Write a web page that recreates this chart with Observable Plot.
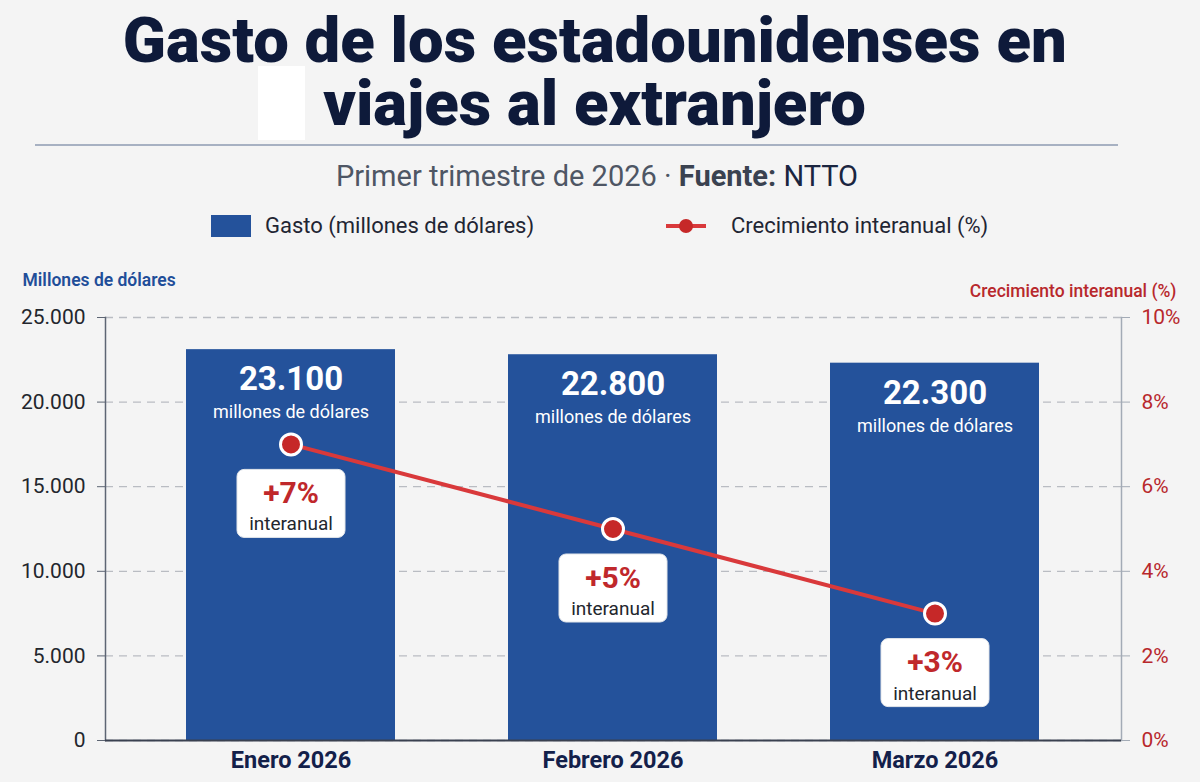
<!DOCTYPE html>
<html lang="es">
<head>
<meta charset="utf-8">
<script src="https://cdn.jsdelivr.net/npm/d3@7"></script>
<script src="https://cdn.jsdelivr.net/npm/@observablehq/plot@0.6"></script>
<style>
  html, body { margin: 0; padding: 0; background: #f4f4f4; }
  body { width: 1200px; height: 782px; position: relative; overflow: hidden; font-family: Roboto, "Noto Sans", sans-serif; }
  .tline { position: absolute; left: 0; width: 1190px; text-align: center; white-space: nowrap;
    font-family: Roboto, sans-serif; font-weight: 900; font-size: 63px; line-height: 63px; color: #0e1a3a; }
  .tline span { display: inline-block; transform-origin: 50% 50%; }
  #patch { position: absolute; left: 258px; top: 66px; width: 47px; height: 74px; background: #ffffff; }
  #rule { position: absolute; left: 35px; top: 144px; width: 1083px; height: 2px; background: #a7b1c2; }
  #subtitle { position: absolute; left: 0; top: 159px; width: 1194px; text-align: center; font-size: 29px; color: #4e5664; }
  #subtitle b { color: #3a4250; font-weight: 700; }
  #subtitle span.src { color: #1a2540; }
  .leg { position: absolute; top: 213px; font-size: 22px; color: #1f2533; display: flex; align-items: center; }
  #chart { position: absolute; left: 0; top: 255px; }
</style>
</head>
<body>
<div id="patch"></div>
<div class="tline" style="top:9px"><span id="t1">Gasto de los estadounidenses en</span></div>
<div class="tline" style="top:72px"><span id="t2">viajes al extranjero</span></div>
<div id="rule"></div>
<div id="subtitle">Primer trimestre de 2026 · <b>Fuente:</b> <span class="src">NTTO</span></div>
<div class="leg" style="left:211px"><span style="display:inline-block;width:40px;height:22px;background:#24529b;margin-right:14px"></span>Gasto (millones de dólares)</div>
<div class="leg" style="left:665px"><svg width="42" height="16" style="margin-right:24px"><line x1="1" y1="8" x2="41" y2="8" stroke="#d9393b" stroke-width="4"/><circle cx="21" cy="8" r="7" fill="#c62828"/></svg>Crecimiento interanual (%)</div>
<div id="chart"></div>
<script>
// Monthly spending (millions of dollars) and year-over-year growth (%)
const months = ["Enero 2026", "Febrero 2026", "Marzo 2026"];
const spending = [23100, 22800, 22300];
const growth = [7, 5, 3];
const leftTicks = [0, 5000, 10000, 15000, 20000, 25000];
const rightTicks = [0, 2, 4, 6, 8, 10];

// narrow the headline horizontally so the first line is 944px wide
{
  const t1 = document.getElementById("t1"), t2 = document.getElementById("t2");
  const k = 944 / t1.getBoundingClientRect().width;
  t1.style.transform = `scaleX(${k})`;
  t2.style.transform = `scaleX(${k})`;
}

// growth % shares the left scale: 10% maps to 25.000
const pctToY = 2500;

const data = months.map((m, i) => ({month: m, spend: spending[i], growth: growth[i]}));
const esFormat = d3.formatLocale({thousands: ".", decimal: ",", grouping: [3], currency: ["", "€"]}).format(",");

// rounded white label box, centered on the anchor point
const labelBox = {
  draw(ctx) {
    const w = 108, h = 68, r = 7, x0 = -w / 2, y0 = -h / 2;
    ctx.moveTo(x0 + r, y0);
    ctx.lineTo(x0 + w - r, y0);
    ctx.arcTo(x0 + w, y0, x0 + w, y0 + r, r);
    ctx.lineTo(x0 + w, y0 + h - r);
    ctx.arcTo(x0 + w, y0 + h, x0 + w - r, y0 + h, r);
    ctx.lineTo(x0 + r, y0 + h);
    ctx.arcTo(x0, y0 + h, x0, y0 + h - r, r);
    ctx.lineTo(x0, y0 + r);
    ctx.arcTo(x0, y0, x0 + r, y0, r);
    ctx.closePath();
  }
};

const gy = d => d.growth * pctToY;

const chart = Plot.plot({
  width: 1200,
  height: 527,
  marginLeft: 105,
  marginRight: 79,
  marginTop: 62,
  marginBottom: 42,
  style: {fontFamily: "Roboto, 'Noto Sans', sans-serif", background: "transparent"},
  x: {domain: months, paddingInner: 0.35, paddingOuter: 0.25, axis: null},
  y: {domain: [0, 25000], axis: null},
  marks: [
    Plot.gridY(leftTicks, {stroke: "#b9bcc2", strokeOpacity: 1, strokeDasharray: "8,6", strokeWidth: 1.3}),
    Plot.barY(data, {x: "month", y: "spend", fill: "#24529b"}),
    Plot.frame({anchor: "left", stroke: "#5d6573", strokeWidth: 1.5}),
    Plot.frame({anchor: "right", stroke: "#a3abb6", strokeWidth: 1.5}),
    Plot.ruleY([0], {stroke: "#3a4150", strokeWidth: 2}),
    Plot.axisY(leftTicks, {anchor: "left", tickFormat: esFormat, tickSize: 8, tickPadding: 12,
      fontSize: 21, fill: "#23262d", stroke: "#5d6573", label: null}),
    Plot.axisY(rightTicks.map(t => t * pctToY), {anchor: "right", tickFormat: d => d / pctToY + "%",
      tickSize: 8, tickPadding: 12, fontSize: 21, fill: "#b8282c", stroke: "#a3abb6", label: null}),
    Plot.axisX({tickSize: 0, tickPadding: 11, fontSize: 23.5, fontWeight: 700, fill: "#13204a", label: null}),
    // values inside the bars
    Plot.text(data, {x: "month", y: "spend", text: d => esFormat(d.spend), dy: 30,
      fill: "white", fontSize: 33, fontWeight: 700}),
    Plot.text(data, {x: "month", y: "spend", text: () => "millones de dólares", dy: 63,
      fill: "white", fontSize: 18}),
    // growth line
    Plot.line(data, {x: "month", y: gy, stroke: "#d9393b", strokeWidth: 4}),
    Plot.dot(data, {x: "month", y: gy, r: 10.5, fill: "#c62828", stroke: "white", strokeWidth: 3}),
    Plot.dot(data, {x: "month", y: gy, symbol: labelBox, fill: "white", stroke: "#e3e6ea", strokeWidth: 1, dy: 59}),
    Plot.text(data, {x: "month", y: gy, text: d => "+" + d.growth + "%", dy: 49,
      fill: "#c0282b", fontSize: 30, fontWeight: 700}),
    Plot.text(data, {x: "month", y: gy, text: () => "interanual", dy: 80,
      fill: "#23262d", fontSize: 19}),
    // axis titles
    Plot.text(["Millones de dólares"], {frameAnchor: "top-left", dx: -83, dy: -44, textAnchor: "start",
      fill: "#1f4e99", fontSize: 17.5, fontWeight: 600}),
    Plot.text(["Crecimiento interanual (%)"], {frameAnchor: "top-right", dx: 55, dy: -33, textAnchor: "end",
      fill: "#b8282c", fontSize: 17.5, fontWeight: 500})
  ]
});
document.getElementById("chart").appendChild(chart);
</script>
</body>
</html>
